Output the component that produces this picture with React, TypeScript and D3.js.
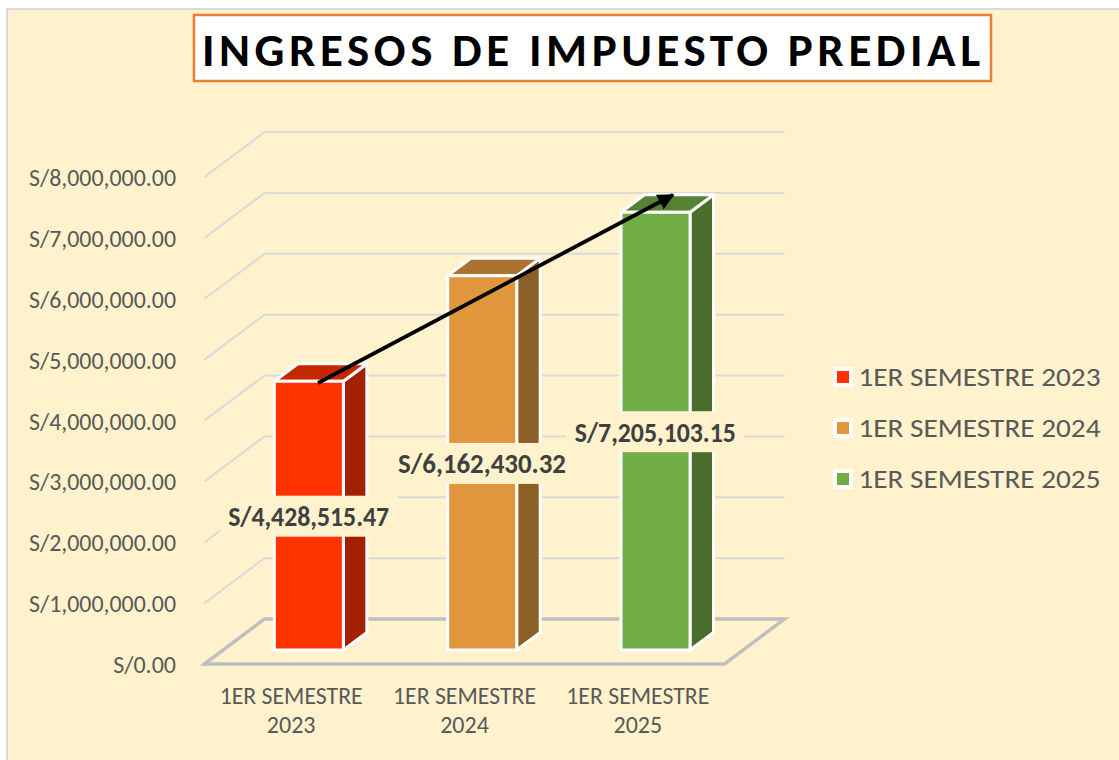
import React from "react";
import * as d3 from "d3";

const categories = ["1ER SEMESTRE 2023", "1ER SEMESTRE 2024", "1ER SEMESTRE 2025"];
const values = [4428515.47, 6162430.32, 7205103.15];
const labels = ["S/4,428,515.47", "S/6,162,430.32", "S/7,205,103.15"];
const frontColors = ["#FF3300", "#E0963C", "#70AD47"];
const topColors = ["#C42800", "#AB7232", "#568235"];
const sideColors = ["#A32100", "#8C5F26", "#4A6D2C"];
const ticks = [0, 1000000, 2000000, 3000000, 4000000, 5000000, 6000000, 7000000, 8000000];
const title = "INGRESOS DE IMPUESTO PREDIAL";

const FONT = "Carlito, Lato, 'Open Sans', sans-serif";
const TEXT = "#595959";
const labelWidths = [161, 168, 161];

export default function App() {
  const y = d3.scaleLinear().domain([0, 8000000]).range([664, 177]);
  const x = d3.scaleBand().domain(categories).range([204.5, 724.5]);
  const wallDx = 60, wallDy = -45;
  const barW = 69, offX = 17.7, offY = -14, depthX = 23.5, depthY = -17.5;
  const tickFmt = (v: number) => "S/" + d3.format(",.2f")(v);

  return (
    <svg width={1119} height={760} style={{ position: "absolute", left: 0, top: 0, fontFamily: FONT }}>
      <rect x={0} y={0} width={1119} height={760} fill="#FFFFFF" />
      <rect x={7} y={9} width={1125} height={770} fill="#FFF2CC" stroke="#D9D9D9" strokeWidth={2} />

      {/* title */}
      <rect x={194} y={15} width={797} height={66} fill="#FFFFFF" stroke="#ED7D31" strokeWidth={2.5} />
      <text x={591} y={66} textAnchor="middle" fontSize={47} fontWeight={700} fill="#000" textLength={778} lengthAdjust="spacing">{title}</text>

      {/* walls */}
      {ticks.map((t) => t > 0 && (
        <polyline key={t} fill="none" stroke="#D9D9D9" strokeWidth={2}
          points={`${x.range()[0]},${y(t)} ${x.range()[0] + wallDx},${y(t) + wallDy} ${x.range()[1] + wallDx},${y(t) + wallDy}`} />
      ))}
      <polygon fill="none" stroke="#BFBFBF" strokeWidth={3.5}
        points={`${x.range()[0]},${y(0)} ${x.range()[0] + wallDx},${y(0) + wallDy} ${x.range()[1] + wallDx},${y(0) + wallDy} ${x.range()[1]},${y(0)}`} />

      {/* y ticks */}
      {ticks.map((t) => (
        <text key={t} x={176} y={y(t) + 9} textAnchor="end" fontSize={24} fill={TEXT} textLength={tickFmt(t).length > 8 ? 147 : undefined} lengthAdjust="spacingAndGlyphs">{tickFmt(t)}</text>
      ))}

      {/* x labels */}
      {categories.map((c) => {
        const cx = x(c)! + x.bandwidth() / 2;
        const m = c.match(/^(.*) (\d+)$/)!;
        return (
          <g key={c}>
            <text x={cx} y={704} textAnchor="middle" fontSize={24} fill={TEXT} textLength={143} lengthAdjust="spacingAndGlyphs">{m[1]}</text>
            <text x={cx} y={733} textAnchor="middle" fontSize={24} fill={TEXT}>{m[2]}</text>
          </g>
        );
      })}

      {/* bars */}
      {categories.map((c, i) => {
        const left = x(c)! + x.bandwidth() / 2 + offX - barW / 2;
        const right = left + barW;
        const base = y(0) + offY;
        const top = base - (y(0) - y(values[i])) + 0.8;
        return (
          <g key={c} stroke="#FFFFFF" strokeWidth={3} strokeLinejoin="round">
            <polygon fill={sideColors[i]} points={`${right},${top} ${right + depthX},${top + depthY} ${right + depthX},${base + depthY} ${right},${base}`} />
            <polygon fill={topColors[i]} points={`${left},${top} ${left + depthX},${top + depthY} ${right + depthX},${top + depthY} ${right},${top}`} />
            <rect x={left} y={top} width={barW} height={base - top} fill={frontColors[i]} />
          </g>
        );
      })}

      {/* value labels */}
      {categories.map((c, i) => {
        const cx = x(c)! + x.bandwidth() / 2 + 17.5;
        const base = y(0) + offY;
        const top = base - (y(0) - y(values[i]));
        const cy = (top + base) / 2 + 1;
        return (
          <g key={c + "-l"}>
            <rect x={cx - 89} y={cy - 20.5} width={178} height={41} fill="#FFF2CC" />
            <text x={cx} y={cy + 10} textAnchor="middle" fontSize={29} fontWeight={600} fill="#404040" textLength={labelWidths[i]} lengthAdjust="spacingAndGlyphs">{labels[i]}</text>
          </g>
        );
      })}

      {/* arrow */}
      <defs>
        <marker id="arrowHead" viewBox="0 0 10 10" refX={9} refY={5} markerWidth={4.4} markerHeight={4.4} orient="auto">
          <path d="M0,0 L10,5 L0,10 Z" fill="#000" />
        </marker>
      </defs>
      <line x1={318} y1={383} x2={673} y2={195} stroke="#000" strokeWidth={3.8} markerEnd="url(#arrowHead)" />

      {/* legend */}
      {categories.map((c, i) => {
        const ly = 377 + i * 51;
        return (
          <g key={c + "-lg"}>
            <rect x={833} y={ly - 10} width={20} height={20} fill="#FFF" />
            <rect x={837} y={ly - 6} width={12} height={12} fill={frontColors[i]} />
            <text x={858.5} y={ly + 9} fontSize={27} fill={TEXT} textLength={242} lengthAdjust="spacingAndGlyphs">{c}</text>
          </g>
        );
      })}
    </svg>
  );
}
